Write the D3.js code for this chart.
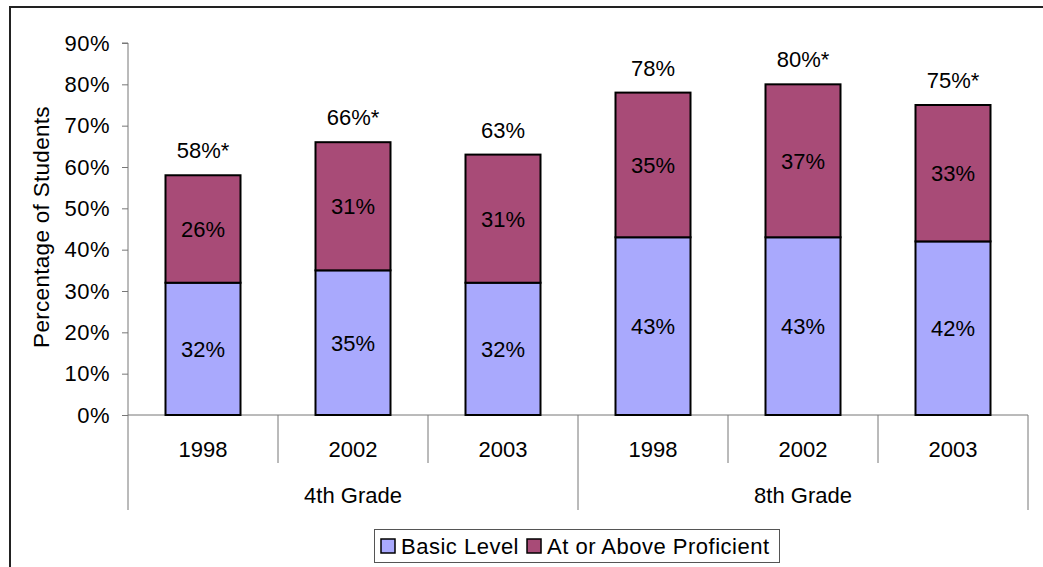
<!DOCTYPE html>
<html><head><meta charset="utf-8">
<script src="https://cdn.jsdelivr.net/npm/d3@7"></script>
<style>body{margin:0;background:#fff}svg{display:block;font-family:"Liberation Sans",Arial,sans-serif}</style>
</head><body><svg id="c" width="1043" height="567"></svg>
<script>
const categories = ["1998","2002","2003","1998","2002","2003"];
const groups = ["4th Grade","8th Grade"];
const groupOf = [0,0,0,1,1,1];
const basic = [32,35,32,43,43,42];
const proficient = [26,31,31,35,37,33];
const totalLabels = ["58%*","66%*","63%","78%","80%*","75%*"];
const yTicks = [0,10,20,30,40,50,60,70,80,90];
const seriesNames = ["Basic Level","At or Above Proficient"];
const colors = ["#a9a9fd","#a84b77"];

(function(){
const FS = 22;
const svg = d3.select("#c");
const pL=128,pR=1028,pT=43,pB=415;
const x = d3.scaleBand().domain(d3.range(categories.length)).range([pL,pR]).paddingInner(0).paddingOuter(0);
const y = d3.scaleLinear().domain([0,90]).range([pB,pT]);

// outer frame
svg.append("path").attr("d",`M10,567 L10,7 L1043,7`).attr("fill","none").attr("stroke","#222").attr("stroke-width",2);

// y axis
const ya = svg.append("g").attr("transform",`translate(${pL},0)`)
  .call(d3.axisLeft(y).tickValues(yTicks).tickFormat(d=>d+"%").tickSize(6).tickPadding(12));
ya.select(".domain").attr("stroke","#777").attr("d",`M-6,${pT}H0V${pB}`);
ya.selectAll(".tick line").attr("stroke","#777");
ya.selectAll("text").attr("font-size",FS).attr("fill","#000").attr("font-family","Liberation Sans, Arial, sans-serif").attr("letter-spacing",0.5);

// y label
svg.append("text").attr("transform",`translate(49,${(pT+pB)/2 - 2}) rotate(-90)`)
  .attr("text-anchor","middle").attr("font-size",FS+0.5).attr("letter-spacing",0.3).text("Percentage of Students");

// x baseline and category separators
svg.append("line").attr("x1",pL).attr("x2",pR).attr("y1",pB).attr("y2",pB).attr("stroke","#777");
const bounds = d3.range(categories.length+1).map(i=> i<categories.length ? x(i) : pR);
bounds.forEach((bx,i)=>{
  const isGroup = (i===0 || i===categories.length || groupOf[i]!==groupOf[i-1]);
  svg.append("line").attr("x1",bx).attr("x2",bx).attr("y1",pB).attr("y2",isGroup?510:463).attr("stroke","#777");
});
categories.forEach((c,i)=>{
  svg.append("text").attr("x",x(i)+x.bandwidth()/2).attr("y",457).attr("text-anchor","middle").attr("font-size",FS).text(c);
});
groups.forEach((g,gi)=>{
  const idx = groupOf.map((v,i)=>v===gi?i:-1).filter(i=>i>=0);
  const cx = (x(idx[0]) + x(idx[idx.length-1])+x.bandwidth())/2;
  svg.append("text").attr("x",cx).attr("y",503).attr("text-anchor","middle").attr("font-size",FS).text(g);
});

// bars
const bw = x.bandwidth()*0.5;
const stackData = categories.map((c,i)=>({i, v0:basic[i], v1:proficient[i]}));
const stack = d3.stack().keys(["v0","v1"])(stackData);
stack.forEach((layer,li)=>{
  layer.forEach((d,i)=>{
    const cx = x(i)+x.bandwidth()/2;
    svg.append("rect").attr("x",cx-bw/2).attr("y",y(d[1])).attr("width",bw).attr("height",y(d[0])-y(d[1]))
      .attr("fill",colors[li]).attr("stroke","#000").attr("stroke-width",2);
  });
});
stack.forEach((layer,li)=>{
  layer.forEach((d,i)=>{
    const cx = x(i)+x.bandwidth()/2;
    svg.append("text").attr("x",cx).attr("y",y((d[0]+d[1])/2)+8).attr("text-anchor","middle").attr("font-size",FS)
      .text((d[1]-d[0])+"%");
  });
});
categories.forEach((c,i)=>{
  const cx = x(i)+x.bandwidth()/2;
  svg.append("text").attr("x",cx).attr("y",y(basic[i]+proficient[i])-17).attr("text-anchor","middle").attr("font-size",FS).text(totalLabels[i]);
});

// legend
const lg = svg.append("g");
lg.append("rect").attr("x",374.5).attr("y",529.5).attr("width",405).attr("height",33).attr("fill","#fff").attr("stroke","#555");
let lx = 381;
seriesNames.forEach((n,i)=>{
  lg.append("rect").attr("x",lx).attr("y",539).attr("width",14).attr("height",14).attr("fill",colors[i]).attr("stroke","#000").attr("stroke-width",1.5);
  const t = lg.append("text").attr("x",lx+20).attr("y",554).attr("font-size",FS).attr("letter-spacing",0.5).text(n);
  lx += 20 + t.node().getComputedTextLength() + 8;
});
})();
</script></body></html>
